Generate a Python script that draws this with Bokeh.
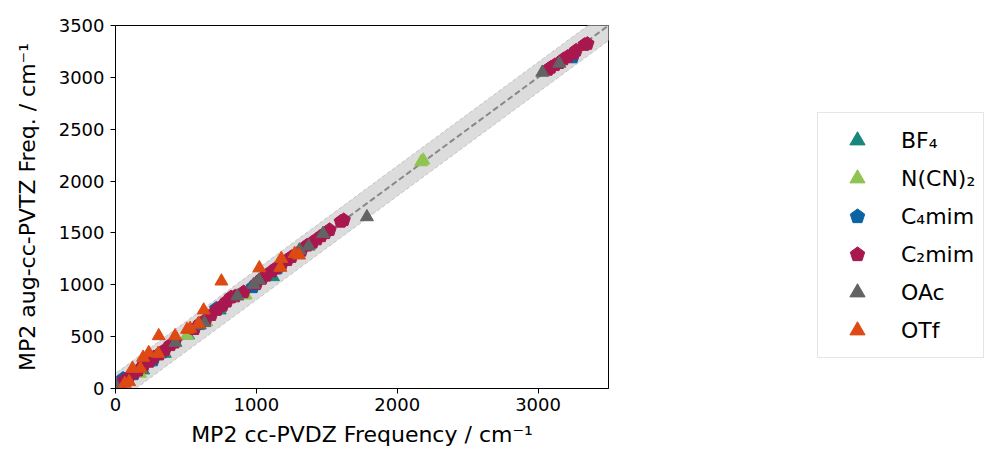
from bokeh.plotting import figure
from bokeh.layouts import row
from bokeh.models import Legend, LegendItem, FixedTicker, Range1d
from bokeh.embed import file_html
from bokeh.resources import INLINE

# ---- data ----
series_names = ["BF\u2084", "N(CN)\u2082", "C\u2084mim", "C\u2082mim", "OAc", "OTf"]

bf4_x = [196, 350, 515, 740, 1118, 1380]
bf4_y = [177, 337, 514, 755, 1076, 1390]

dca_x = [173, 338, 508, 645, 924, 1303, 2170, 2185]
dca_y = [145, 353, 514, 642, 899, 1333, 2184, 2200]

c4_x = [54, 130, 267, 330, 716, 976, 1150, 3246]
c4_y = [96, 140, 273, 350, 771, 979, 1160, 3195]

c2_x = [25, 45, 70, 95, 130, 160, 200, 240, 270, 310, 350, 390, 420, 560, 600, 640,
        680, 720, 760, 790, 820, 850, 910, 1000, 1040, 1070, 1110, 1140, 1180, 1220,
        1250, 1320, 1360, 1400, 1430, 1460, 1490, 1520, 1600, 1620, 3070, 3090, 3120,
        3150, 3180, 3210, 3250, 3270, 3330, 3350]
c2_y = [30, 60, 75, 110, 150, 175, 225, 260, 300, 330, 370, 420, 445, 575, 625, 660,
        710, 760, 800, 840, 880, 890, 930, 1010, 1060, 1090, 1130, 1160, 1200, 1240,
        1270, 1330, 1380, 1410, 1440, 1470, 1500, 1530, 1610, 1625, 3075, 3095, 3120,
        3140, 3175, 3200, 3230, 3260, 3315, 3325]

oac_x = [7, 425, 598, 631, 865, 981, 1019, 1307, 1371, 1473, 1785, 3030, 3151]
oac_y = [16, 443, 610, 633, 890, 1002, 1044, 1333, 1371, 1493, 1654, 3047, 3134]

otf_x = [66, 97, 121, 177, 196, 236, 303, 307, 423, 508, 530, 589, 626, 752, 1021,
         1170, 1177, 1272, 1303]
otf_y = [48, 64, 193, 193, 299, 344, 337, 507, 507, 568, 578, 626, 755, 1034, 1162,
         1166, 1252, 1300, 1285]

x_ticks = [0, 1000, 2000, 3000]
y_ticks = [0, 500, 1000, 1500, 2000, 2500, 3000, 3500]
band_half = 145
line_x = [-200, 3800]

colors = ["#16877a", "#8fc450", "#0a64a4", "#a8184f", "#636363", "#dd4a13"]
markers = ["triangle", "triangle", "pentagon", "pentagon", "triangle", "triangle"]

FONT = "DejaVu Sans"

p = figure(width=610, height=454, output_backend="svg", toolbar_location=None,
           x_range=Range1d(0, 3500), y_range=Range1d(0, 3500),
           min_border_left=115, min_border_right=2, min_border_top=25,
           min_border_bottom=66)
p.background_fill_color = "white"
p.border_fill_color = "white"
p.outline_line_color = "black"
p.outline_line_width = 1
p.xgrid.visible = False
p.ygrid.visible = False

# band around y = x
lo = [v - band_half for v in line_x]
hi = [v + band_half for v in line_x]
p.varea(x=line_x, y1=lo, y2=hi, fill_color="#dcdcdc", fill_alpha=1.0)
p.line(line_x, lo, line_color="#c4c4c4", line_width=1, line_dash="4 2")
p.line(line_x, hi, line_color="#c4c4c4", line_width=1, line_dash="4 2")
p.line(line_x, line_x, line_color="#888888", line_width=2, line_dash="6 3")


def draw(fig, xs, ys, kind, color):
    if kind == "pentagon":
        return fig.ngon(x=xs, y=ys, radius=7, radius_units="screen", n=5,
                        fill_color=color, line_color=color)
    return fig.scatter(xs, ys, marker=kind, size=13, fill_color=color, line_color=color)


all_x = [bf4_x, dca_x, c4_x, c2_x, oac_x, otf_x]
all_y = [bf4_y, dca_y, c4_y, c2_y, oac_y, otf_y]
for xs, ys, m, c in zip(all_x, all_y, markers, colors):
    draw(p, xs, ys, m, c)

# axes
for ax in (p.xaxis[0], p.yaxis[0]):
    ax.major_label_text_font = FONT
    ax.major_label_text_font_size = "18px"
    ax.major_label_text_color = "black"
    ax.axis_label_text_font = FONT
    ax.axis_label_text_font_size = "22px"
    ax.axis_label_text_font_style = "normal"
    ax.axis_label_text_color = "black"
    ax.minor_tick_line_color = None
    ax.major_tick_out = 5
    ax.major_tick_in = 0
    ax.axis_line_color = "black"
    ax.major_tick_line_color = "black"
p.xaxis[0].ticker = FixedTicker(ticks=x_ticks)
p.yaxis[0].ticker = FixedTicker(ticks=y_ticks)
p.xaxis[0].axis_label = "MP2 cc-PVDZ Frequency / cm\u207b\u00b9"
p.yaxis[0].axis_label = "MP2 aug-cc-PVTZ Freq. / cm\u207b\u00b9"
p.xaxis[0].axis_label_standoff = 8
p.yaxis[0].axis_label_standoff = 16
p.xaxis[0].major_label_standoff = 4
p.yaxis[0].major_label_standoff = 6

# legend panel (second figure holding only the legend; its glyphs sit off-range)
lp = figure(width=387, height=454, output_backend="svg", toolbar_location=None,
            x_axis_type=None, y_axis_type=None, x_range=Range1d(0, 1), y_range=Range1d(0, 1),
            min_border=0)
lp.outline_line_color = None
lp.xgrid.visible = False
lp.ygrid.visible = False
lp.background_fill_color = "white"
lp.border_fill_color = "white"

items = []
for name, m, c in zip(series_names, markers, colors):
    rr = draw(lp, [-10], [-10], m, c)
    items.append(LegendItem(label=name, renderers=[rr]))

legend = Legend(items=items, location=(207, 30))
legend.label_text_font = FONT
legend.label_text_font_size = "22px"
legend.label_text_color = "black"
legend.glyph_width = 62
legend.glyph_height = 38
legend.label_height = 30
legend.spacing = 0
legend.padding = 8
legend.margin = 0
legend.label_standoff = 13
legend.border_line_color = "#cccccc"
legend.border_line_width = 1.5
legend.background_fill_alpha = 1.0
lp.add_layout(legend, "center")

open("out.html", "w").write(file_html(row(p, lp), INLINE))
